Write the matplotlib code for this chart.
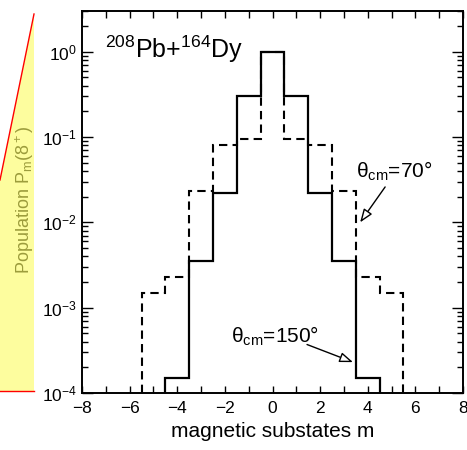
import numpy as np
import matplotlib
matplotlib.use("Agg")
import matplotlib.pyplot as plt
from matplotlib.patches import Polygon
from matplotlib.lines import Line2D
from matplotlib.ticker import MultipleLocator, LogLocator

# Data
m_edges_150 = [-4.5, -3.5, -2.5, -1.5, -0.5, 0.5, 1.5, 2.5, 3.5, 4.5]
pop_150 = [1.5e-4, 3.5e-3, 0.022, 0.30, 1.0, 0.30, 0.022, 3.5e-3, 1.5e-4]
m_edges_70 = [-5.5, -4.5, -3.5, -2.5, -1.5, -0.5, 0.5, 1.5, 2.5, 3.5, 4.5, 5.5]
pop_70 = [1.5e-3, 2.3e-3, 0.023, 0.080, 0.095, 1.0, 0.095, 0.080, 0.023, 2.3e-3, 1.5e-3]
x_ticks = [-8, -6, -4, -2, 0, 2, 4, 6, 8]

plt.rcParams['font.family'] = ['Liberation Sans', 'DejaVu Sans']
plt.rcParams['mathtext.fontset'] = 'custom'
plt.rcParams['mathtext.rm'] = 'Liberation Sans'
plt.rcParams['mathtext.it'] = 'Liberation Sans:italic'
plt.rcParams['mathtext.default'] = 'regular'

W, H = 467, 450
fig = plt.figure(figsize=(W/100, H/100), dpi=100)
ax = fig.add_axes([82/W, 1-393/H, (463-82)/W, (393-11)/H])

ymin = 1e-4
ax.stairs(pop_150, m_edges_150, baseline=ymin, color='black', lw=1.6)
ax.stairs(pop_70, m_edges_70, baseline=ymin, color='black', lw=1.5,
          linestyle=(0, (4, 2.5)))

ax.set_yscale('log')
ax.set_xlim(-8, 8)
ax.set_ylim(ymin, 3.0)
ax.set_xticks(x_ticks)
ax.xaxis.set_minor_locator(MultipleLocator(1))
ax.yaxis.set_major_locator(LogLocator(base=10, numticks=10))
ax.yaxis.set_minor_locator(LogLocator(base=10, subs=np.arange(2, 10), numticks=20))
ax.tick_params(which='both', direction='in', top=True, right=True, width=1.0,
               labelsize=12.5)
ax.tick_params(axis='x', which='both', length=5, pad=6)
ax.tick_params(axis='y', which='major', length=8)
ax.tick_params(axis='y', which='minor', length=4)
for s in ax.spines.values():
    s.set_linewidth(1.4)

ax.set_xlabel('magnetic substates m', fontsize=15, labelpad=4)

ax.text(-7.05, 1.06, r'$^{208}$Pb+$^{164}$Dy', fontsize=18, va='center', ha='left')

ax.text(5.1, 0.04, r'$\theta_{cm}$=70°', fontsize=15, ha='center', va='center')
ax.text(0.1, 4.6e-4, r'$\theta_{cm}$=150°', fontsize=15, ha='center', va='center')

arrow_style = dict(arrowstyle='-|>,head_length=0.8,head_width=0.3',
                   fc='white', ec='black', lw=1.0, shrinkA=0, shrinkB=0)
ax.annotate('', xy=(3.68, 0.010), xytext=(4.73, 0.026), arrowprops=arrow_style)
ax.annotate('', xy=(3.38, 2.3e-4), xytext=(1.45, 3.7e-4), arrowprops=arrow_style)

# Yellow slide annotation region at left
def fp(x, y):
    return (x / W, 1 - y / H)

poly = Polygon([fp(34, 14), fp(0, 180), fp(0, 391), fp(34, 391)],
               closed=True, transform=fig.transFigure, facecolor='#fdfd9e',
               edgecolor='none', zorder=0)
fig.patches.append(poly)
fig.lines.append(Line2D([34/W, 0], [1-14/H, 1-180/H], transform=fig.transFigure,
                        color='red', lw=1.0))
fig.lines.append(Line2D([0, 34/W], [1-391/H, 1-391/H], transform=fig.transFigure,
                        color='red', lw=1.0))
fig.text(25/W, 1-200/H, r'Population P$_m$(8$^+$)', rotation=90, fontsize=13,
         color='#9c9c3c', ha='center', va='center')

fig.savefig('out.png', dpi=100)
